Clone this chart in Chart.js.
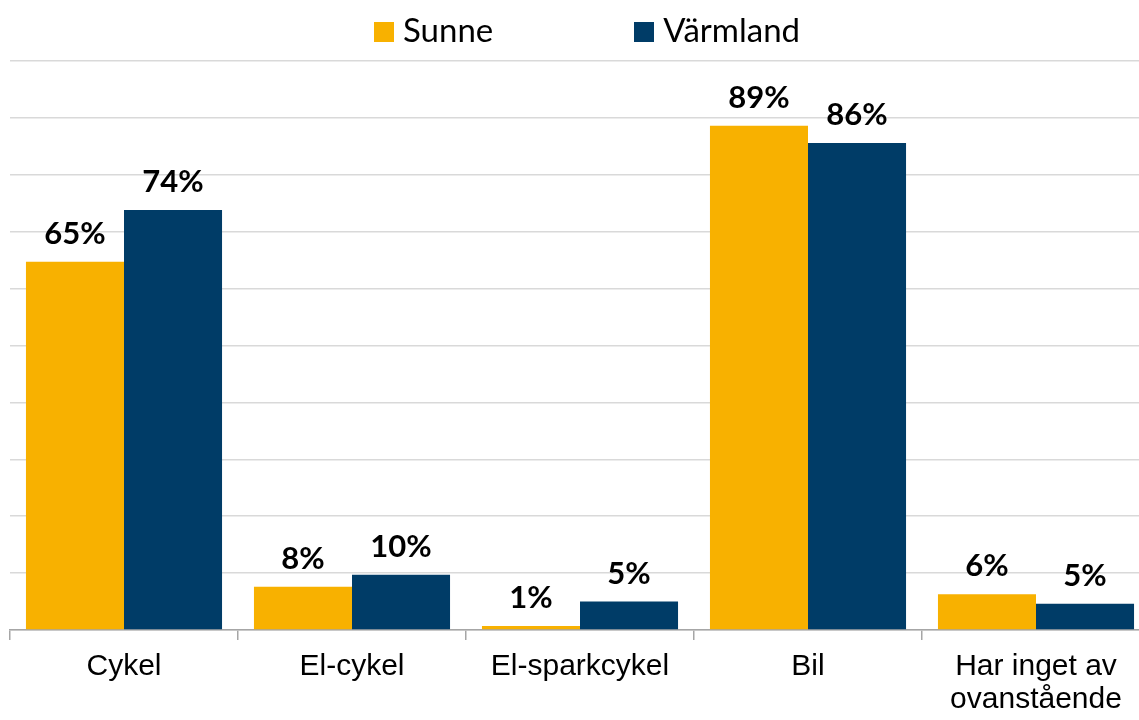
<!DOCTYPE html>
<html>
<head>
<meta charset="utf-8">
<script src="https://cdn.jsdelivr.net/npm/chart.js@4.4.1/dist/chart.umd.min.js"></script>
<style>
  body { margin: 0; overflow: hidden; background: #fff; }
  #wrap { position: relative; width: 1160px; height: 720px; }
  #legend { position: absolute; left: 374px; top: 9px; display: flex; gap: 141px;
            font-family: Lato, 'Noto Sans', sans-serif; font-size: 33px; line-height: 40px; color: #000; }
  .item { display: flex; align-items: flex-start; }
  .box { width: 20px; height: 20px; margin-top: 13px; margin-right: 9px; }
</style>
</head>
<body>
<div id="wrap">
  <div id="legend"></div>
  <canvas id="chart"></canvas>
</div>
<script>
// values (labels show them rounded)
var categories = ['Cykel', 'El-cykel', 'El-sparkcykel', 'Bil', ['Har inget av', 'ovanstående']];
var sunne = [64.7, 7.6, 0.7, 88.6, 6.3];
var varmland = [73.8, 9.7, 5.0, 85.6, 4.6];
var seriesNames = ['Sunne', 'Värmland'];
var seriesColors = ['#F8B100', '#003C67'];

// percent labels above each bar
var valueLabels = {
    id: 'valueLabels',
    afterDatasetsDraw: function (chart) {
        var ctx = chart.ctx;
        ctx.save();
        ctx.font = 'bold 31px Lato, "Noto Sans", sans-serif';
        ctx.fillStyle = '#000';
        ctx.textAlign = 'center';
        ctx.textBaseline = 'alphabetic';
        chart.data.datasets.forEach(function (ds, i) {
            chart.getDatasetMeta(i).data.forEach(function (bar, j) {
                ctx.fillText(Math.round(ds.data[j]) + '%', bar.x, bar.y - 18);
            });
        });
        ctx.restore();
    }
};

// html legend built from the datasets
var htmlLegend = {
    id: 'htmlLegend',
    afterUpdate: function (chart) {
        var el = document.getElementById('legend');
        el.innerHTML = '';
        chart.data.datasets.forEach(function (ds) {
            var item = document.createElement('div');
            item.className = 'item';
            var box = document.createElement('span');
            box.className = 'box';
            box.style.background = ds.backgroundColor;
            var txt = document.createElement('span');
            txt.textContent = ds.label;
            item.appendChild(box);
            item.appendChild(txt);
            el.appendChild(item);
        });
    }
};

var ctx = document.getElementById('chart').getContext('2d');
var chart = new Chart(ctx, {
    type: 'bar',
    data: {
        labels: categories,
        datasets: [{
            label: seriesNames[0],
            data: sunne,
            backgroundColor: seriesColors[0],
            categoryPercentage: 0.86,
            barPercentage: 1
        }, {
            label: seriesNames[1],
            data: varmland,
            backgroundColor: seriesColors[1],
            categoryPercentage: 0.86,
            barPercentage: 1
        }]
    },
    options: {
        responsive: true,
        maintainAspectRatio: false,
        animation: false,
        layout: { padding: { left: 10, right: 10, top: 61, bottom: 0 } },
        plugins: {
            legend: { display: false },
            tooltip: { enabled: false }
        },
        scales: {
            x: {
                afterFit: function (scale) { scale.height = 90; },
                grid: { offset: true, drawOnChartArea: false, drawTicks: true, tickLength: 10, color: '#a6a6a6', lineWidth: 1.5 },
                border: { color: '#a6a6a6', width: 1.5 },
                ticks: {
                    color: '#000',
                    padding: 10,
                    maxRotation: 0,
                    autoSkip: false,
                    font: { family: '"Liberation Sans", Arial, sans-serif', size: 30, lineHeight: 1.1 }
                }
            },
            y: {
                min: 0,
                max: 100,
                ticks: { display: false, stepSize: 10 },
                grid: { drawTicks: false, color: '#d9d9d9', lineWidth: 1.5 },
                border: { display: false }
            }
        }
    },
    plugins: [valueLabels, htmlLegend]
});
</script>
</body>
</html>
